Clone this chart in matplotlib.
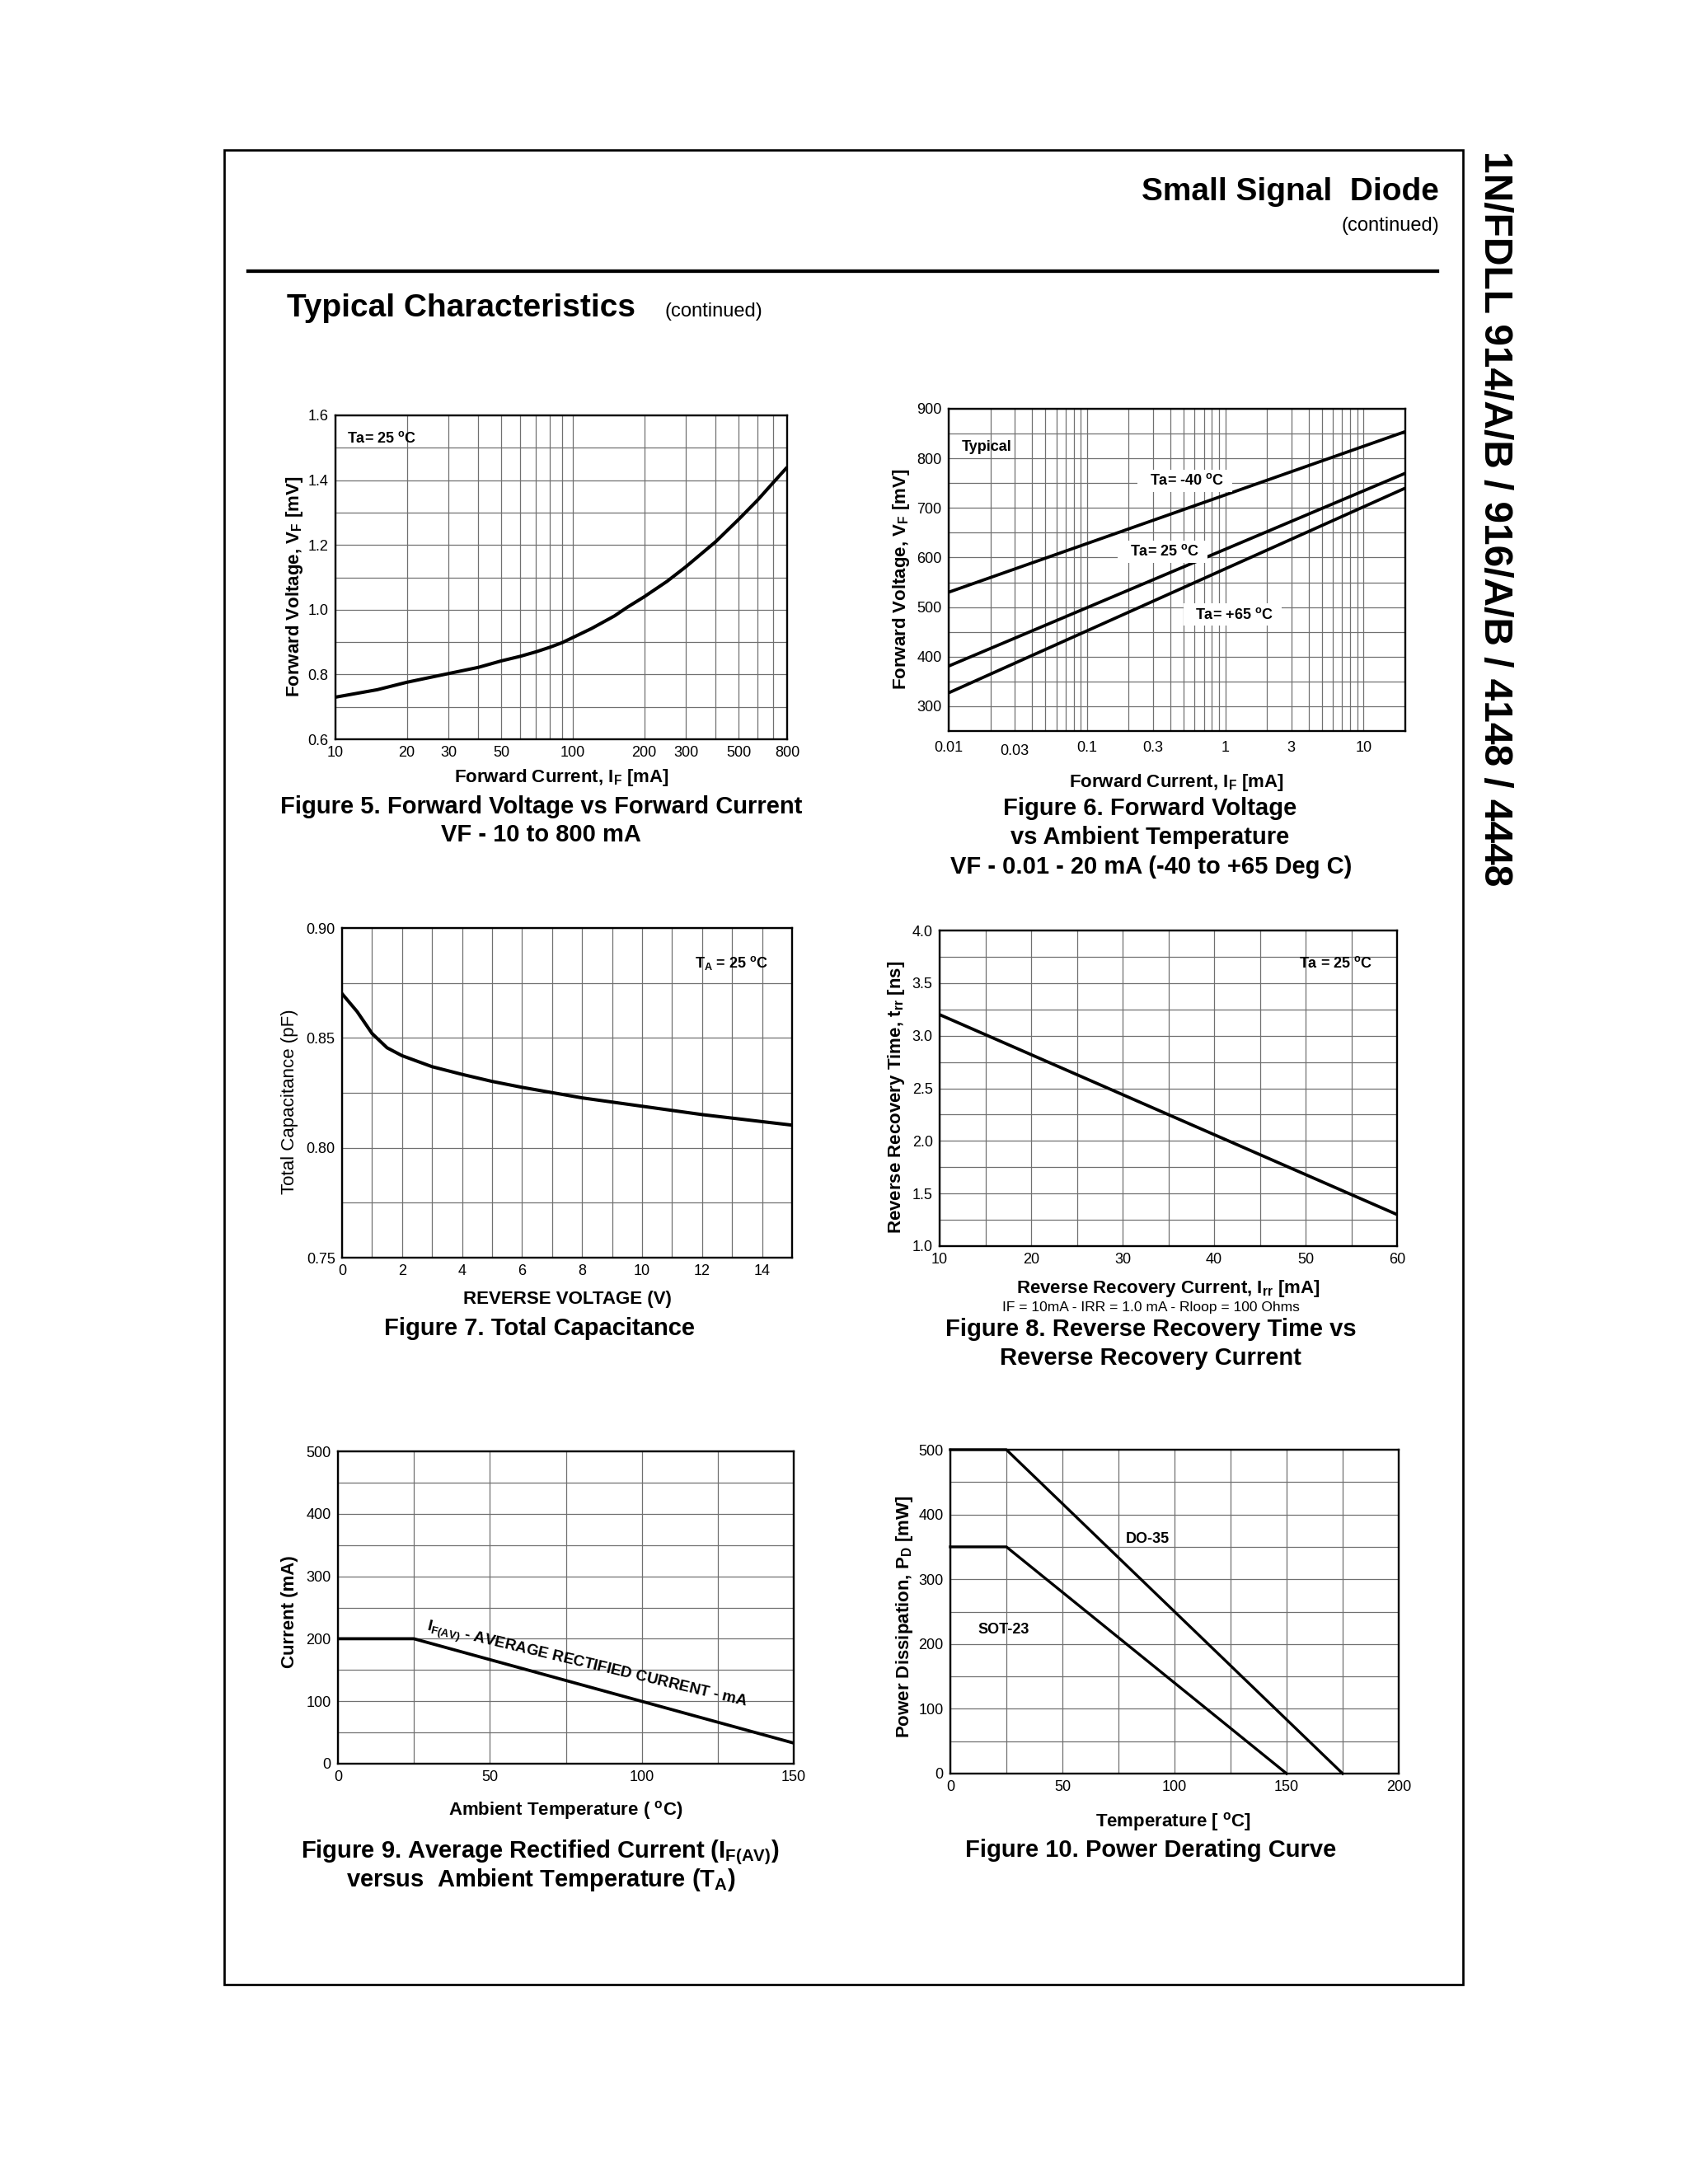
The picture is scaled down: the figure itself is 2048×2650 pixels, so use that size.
import numpy as np
import matplotlib
matplotlib.use('Agg')
import matplotlib.pyplot as plt
from matplotlib.lines import Line2D
from matplotlib.patches import Rectangle
from matplotlib.ticker import NullLocator

plt.rcParams['font.family'] = ['Liberation Sans', 'DejaVu Sans']
plt.rcParams['mathtext.fontset'] = 'custom'
plt.rcParams['mathtext.rm'] = 'Liberation Sans'
plt.rcParams['mathtext.bf'] = 'Liberation Sans:bold'
plt.rcParams['mathtext.it'] = 'Liberation Sans:italic'

W, H = 2048, 2650

# Figure 5: forward voltage vs forward current
if5 = [10, 15, 20, 30, 40, 50, 60, 70, 80, 90, 100, 120, 150, 170, 200, 250, 300, 400,
       500, 600, 700, 800]
vf5 = [0.730, 0.753, 0.776, 0.803, 0.822, 0.842, 0.856, 0.870, 0.884, 0.898, 0.914,
       0.942, 0.981, 1.008, 1.040, 1.088, 1.133, 1.210, 1.279, 1.338, 1.393, 1.440]

# Figure 6: forward voltage vs current at three temperatures
if6 = [0.01, 20]
vf6_m40 = [530, 854]
vf6_25 = [381, 770]
vf6_65 = [327, 740]

# Figure 7: total capacitance vs reverse voltage
vr7 = [0, 0.5, 1, 1.5, 2, 3, 4, 5, 6, 7, 8, 9, 10, 11, 12, 13, 14, 15]
ct7 = [0.8701, 0.862, 0.852, 0.8455, 0.8419, 0.8369, 0.8334, 0.8302, 0.8275, 0.8251,
       0.8227, 0.8208, 0.8189, 0.8170, 0.8151, 0.8135, 0.8119, 0.8103]

# Figure 8: reverse recovery time vs reverse recovery current
irr8 = [10, 60]
trr8 = [3.2, 1.3]

# Figure 9: average rectified current vs ambient temperature
ta9 = [0, 25, 150]
ifav9 = [200, 200, 33]

# Figure 10: power derating
t_do35 = [0, 25, 175]
p_do35 = [500, 500, 0]
t_sot23 = [0, 25, 150]
p_sot23 = [350, 350, 0]

fig = plt.figure(figsize=(W / 100, H / 100), dpi=100)


def px_axes(l, t, r, b):
    return fig.add_axes([l / W, 1 - b / H, (r - l) / W, (b - t) / H])


def ftext(x, y, s, **kw):
    return fig.text(x / W, 1 - y / H, s, **kw)


def setup(ax, xlim, ylim, xt, xl, yt, yl, log=False):
    if log:
        ax.set_xscale('log')
    ax.set_xlim(xlim)
    ax.set_ylim(ylim)
    ax.set_xticks(xt)
    ax.set_xticklabels(xl)
    ax.set_yticks(yt)
    ax.set_yticklabels(yl)
    ax.xaxis.set_minor_locator(NullLocator())
    ax.grid(True, color='#707070', lw=0.9)
    ax.set_axisbelow(True)
    ax.tick_params(length=0, labelsize=13, pad=6)
    for s in ax.spines.values():
        s.set_linewidth(1.7)
        s.set_zorder(3)


def lbl(v, keep):
    return [(('%g' % v_) if k else '') for v_, k in zip(v, keep)]


BOLD = dict(fontweight='bold')
CAP = dict(fontsize=21, fontweight='bold', ha='center', va='baseline')
AXL = dict(fontsize=16, fontweight='bold', ha='center', va='center')
ANN = dict(fontsize=13, fontweight='bold')
DEG = r'$^\mathbf{o}$C'

# ---- page furniture ----
fig.add_artist(Rectangle((272 / W, 1 - 2408 / H), (1775 - 272) / W, (2408 - 182) / H,
                         transform=fig.transFigure, fill=False, lw=1.95, ec='black'))
fig.add_artist(Line2D([301 / W, 1744 / W], [1 - 329 / H, 1 - 329 / H],
                      transform=fig.transFigure, lw=3.1, color='black'))
ftext(1746, 243, 'Small Signal  Diode', ha='right', va='baseline', fontsize=28, **BOLD)
ftext(1746, 280, '(continued)', ha='right', va='baseline', fontsize=17)
ftext(348, 384, 'Typical Characteristics', ha='left', va='baseline', fontsize=28, **BOLD)
ftext(806, 384, '(continued)', ha='left', va='baseline', fontsize=17)
ftext(1813, 183, '1N/FDLL 914/A/B / 916/A/B / 4148 / 4448', rotation=-90,
      ha='center', va='top', fontsize=34.5, **BOLD)

# ---- Figure 5 ----
ax5 = px_axes(407, 504, 955, 897)
xt5 = [10, 20, 30, 40, 50, 60, 70, 80, 90, 100, 200, 300, 400, 500, 600, 700, 800]
yt5 = list(np.round(np.arange(0.6, 1.61, 0.1), 1))
setup(ax5, (10, 800), (0.6, 1.6), xt5,
      lbl(xt5, [v in (10, 20, 30, 50, 100, 200, 300, 500, 800) for v in xt5]),
      yt5, [('%.1f' % v) if i % 2 == 0 else '' for i, v in enumerate(yt5)], log=True)
ax5.plot(if5, vf5, color='black', lw=2.9, solid_capstyle='butt', solid_joinstyle='round')
ax5.text(0.025, 0.93, 'Ta= 25 ' + DEG, transform=ax5.transAxes, ha='left', va='center', **ANN)
ftext(357, 712, r'Forward Voltage, V$_\mathbf{F}$ [mV]', rotation=90, **AXL)
ftext(681, 944, r'Forward Current, I$_\mathbf{F}$ [mA]', **AXL)
ftext(657, 987, 'Figure 5. Forward Voltage vs Forward Current', **CAP)
ftext(656, 1021, 'VF - 10 to 800 mA', **CAP)

# ---- Figure 6 ----
ax6 = px_axes(1151, 496, 1705, 887)
xt6 = [k * d for d in (0.01, 0.1, 1, 10) for k in range(1, 10)] + [20]
xt6 = [x for x in xt6 if x <= 20]
lab6 = {0.01: '0.01', 0.03: '0.03', 0.1: '0.1', 0.3: '0.3', 1: '1', 3: '3', 10: '10'}
xl6 = []
for x in xt6:
    key = [k for k in lab6 if abs(k - x) < 1e-9 * max(1, x)]
    xl6.append(lab6[key[0]] if key else '')
yt6 = list(range(250, 901, 50))
setup(ax6, (0.01, 20), (250, 900), xt6, xl6,
      yt6, [str(v) if v % 100 == 0 else '' for v in yt6], log=True)
ax6.tick_params(axis='x', pad=9)
for t in ax6.get_xticklabels():
    if t.get_text() == '0.03':
        t.set_y(-0.008)
for vv in (vf6_m40, vf6_25, vf6_65):
    ax6.plot(if6, vv, color='black', lw=2.7, solid_capstyle='butt', zorder=4)
box = dict(boxstyle='square,pad=0.25', fc='white', ec='none')
ax6.text(0.028, 0.88, 'Typical', transform=ax6.transAxes, ha='left', va='center', **ANN)
ax6.text(0.5176, 0.777, '  Ta= -40 ' + DEG + '  ', transform=ax6.transAxes, ha='center',
         va='center', bbox=box, zorder=5, **ANN)
ax6.text(0.469, 0.5575, '  Ta= 25 ' + DEG + '  ', transform=ax6.transAxes, ha='center',
         va='center', bbox=box, zorder=5, **ANN)
ax6.text(0.622, 0.361, '  Ta= +65 ' + DEG + '  ', transform=ax6.transAxes, ha='center',
         va='center', bbox=box, zorder=5, **ANN)
ftext(1094, 703, r'Forward Voltage, V$_\mathbf{F}$ [mV]', rotation=90, **AXL)
ftext(1427, 949, r'Forward Current, I$_\mathbf{F}$ [mA]', **AXL)
ftext(1395, 989, 'Figure 6. Forward Voltage', **CAP)
ftext(1395, 1024, 'vs Ambient Temperature', **CAP)
ftext(1397, 1060, 'VF - 0.01 - 20 mA (-40 to +65 Deg C)', **CAP)

# ---- Figure 7 ----
ax7 = px_axes(415, 1126, 961, 1526)
xt7 = list(range(0, 16))
yt7 = [0.75, 0.775, 0.80, 0.825, 0.85, 0.875, 0.90]
setup(ax7, (0, 15), (0.75, 0.90), xt7, [str(v) if v % 2 == 0 and v < 15 else '' for v in xt7],
      yt7, ['0.75', '', '0.80', '', '0.85', '', '0.90'])
ax7.plot(vr7, ct7, color='black', lw=2.9, solid_joinstyle='round')
ax7.text(0.865, 0.895, r'T$_\mathbf{A}$ = 25 ' + DEG, transform=ax7.transAxes,
         ha='center', va='center', **ANN)
ftext(352, 1337, 'Total Capacitance (pF)', rotation=90, ha='center', va='center', fontsize=16)
ftext(688, 1577, 'REVERSE VOLTAGE (V)', **AXL)
ftext(655, 1620, 'Figure 7. Total Capacitance', **CAP)

# ---- Figure 8 ----
ax8 = px_axes(1140, 1129, 1695, 1512)
xt8 = list(range(10, 61, 5))
yt8 = list(np.arange(1.0, 4.01, 0.25))
setup(ax8, (10, 60), (1.0, 4.0), xt8, [str(v) if v % 10 == 0 else '' for v in xt8],
      yt8, [('%.1f' % v) if i % 2 == 0 else '' for i, v in enumerate(yt8)])
ax8.plot(irr8, trr8, color='black', lw=2.7)
ax8.text(0.867, 0.895, 'Ta = 25 ' + DEG, transform=ax8.transAxes,
         ha='center', va='center', **ANN)
ftext(1087, 1331, r'Reverse Recovery Time, t$_\mathbf{rr}$ [ns]', rotation=90, **AXL)
ftext(1417, 1563, r'Reverse Recovery Current, I$_\mathbf{rr}$ [mA]', **AXL)
ftext(1396, 1586, 'IF = 10mA - IRR = 1.0 mA - Rloop = 100 Ohms', ha='center', va='center',
      fontsize=12.5)
ftext(1396, 1621, 'Figure 8. Reverse Recovery Time vs', **CAP)
ftext(1396, 1656, 'Reverse Recovery Current', **CAP)

# ---- Figure 9 ----
ax9 = px_axes(410, 1761, 963, 2140)
xt9 = list(range(0, 151, 25))
yt9 = list(range(0, 501, 50))
setup(ax9, (0, 150), (0, 500), xt9, [str(v) if v % 50 == 0 else '' for v in xt9],
      yt9, [str(v) if v % 100 == 0 else '' for v in yt9])
ax9.plot(ta9, ifav9, color='black', lw=2.7)
ax9.text(29, 213, r'I$_\mathbf{F(AV)}$ - AVERAGE RECTIFIED CURRENT - mA', rotation=-13.4,
         rotation_mode='anchor', ha='left', va='baseline', fontsize=13.5, fontweight='bold')
ftext(352, 1956, 'Current (mA)', rotation=90, **AXL)
ftext(686, 2197, r'Ambient Temperature ( ' + DEG + ')', **AXL)
ftext(655, 2254, r'Figure 9. Average Rectified Current (I$_\mathbf{F(AV)}$)', **CAP)
ftext(656, 2289, r'versus  Ambient Temperature (T$_\mathbf{A}$)', **CAP)

# ---- Figure 10 ----
ax10 = px_axes(1153, 1759, 1697, 2152)
xt10 = list(range(0, 201, 25))
yt10 = list(range(0, 501, 50))
setup(ax10, (0, 200), (0, 500), xt10, [str(v) if v % 50 == 0 else '' for v in xt10],
      yt10, [str(v) if v % 100 == 0 else '' for v in yt10])
ax10.plot(t_do35, p_do35, color='black', lw=2.4, clip_on=False, zorder=4)
ax10.plot(t_sot23, p_sot23, color='black', lw=2.4, clip_on=False, zorder=4)
ax10.text(87.8, 362, 'DO-35', ha='center', va='center', **ANN)
ax10.text(23.8, 222, 'SOT-23', ha='center', va='center', **ANN)
ftext(1097, 1962, r'Power Dissipation, P$_\mathbf{D}$ [mW]', rotation=90, **AXL)
ftext(1424, 2211, r'Temperature [ ' + DEG + ']', **AXL)
ftext(1396, 2253, 'Figure 10. Power Derating Curve', **CAP)

fig.savefig('out.png', dpi=100, facecolor='white')
